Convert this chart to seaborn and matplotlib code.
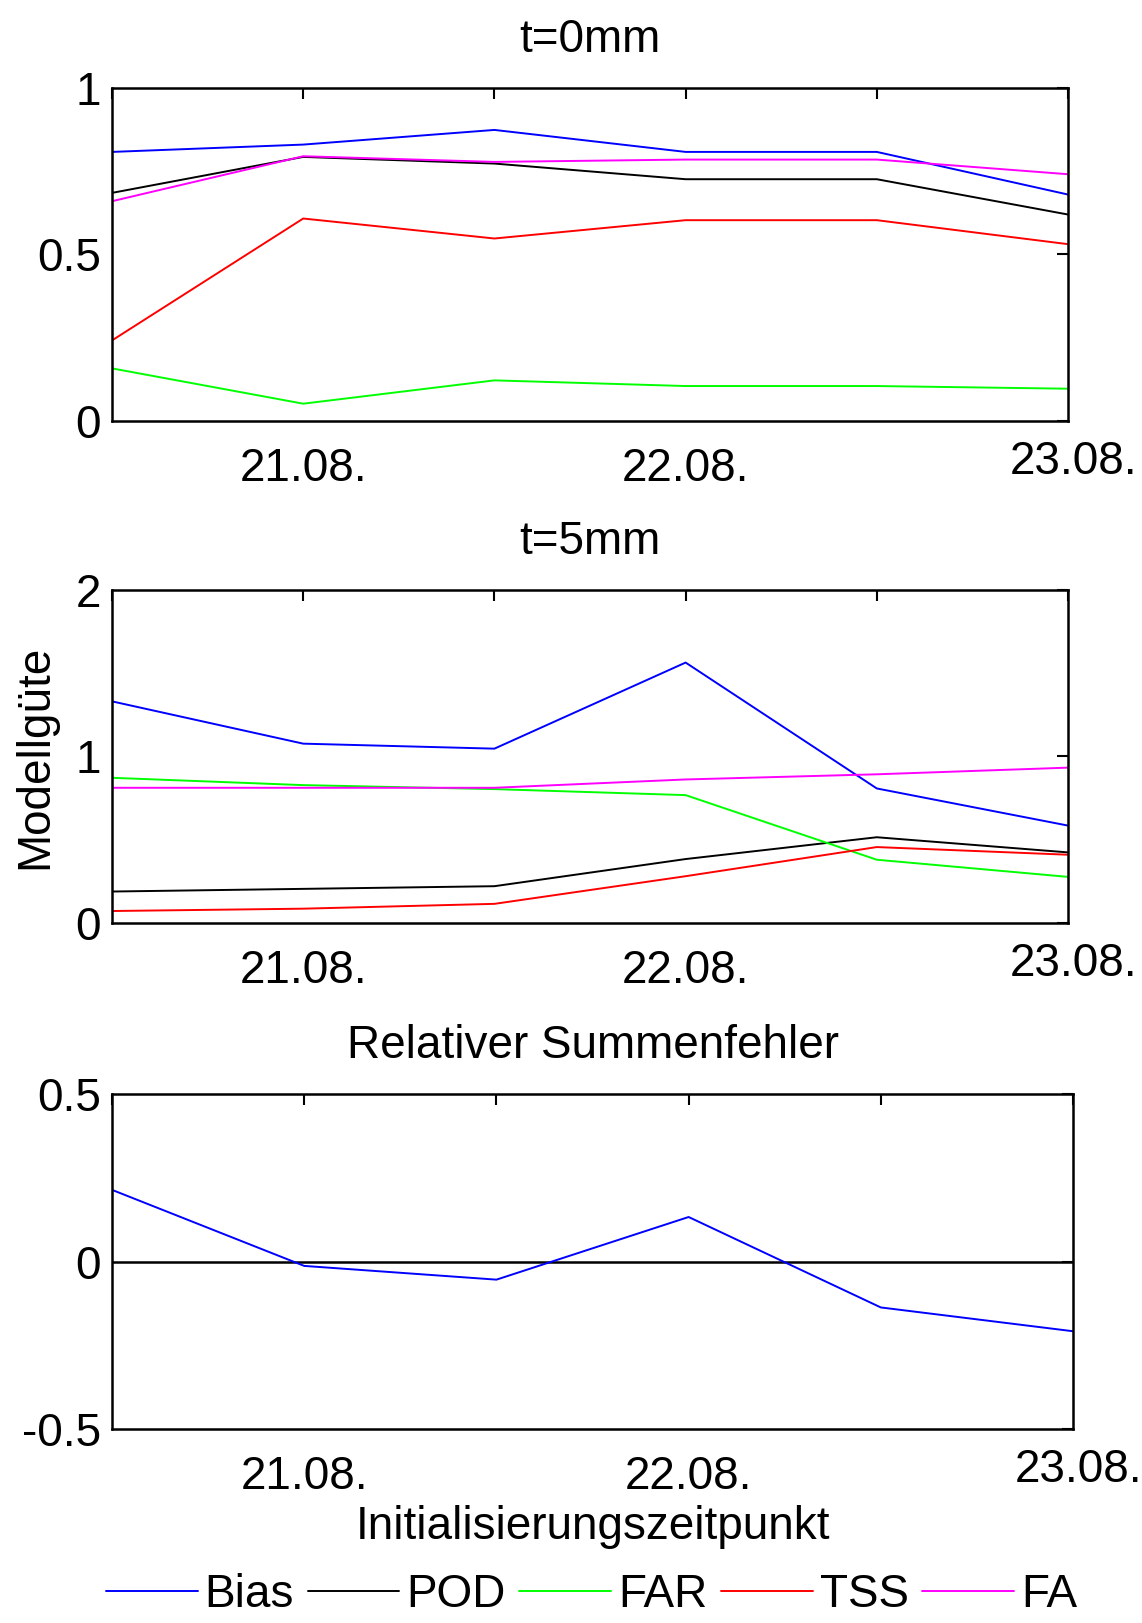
import matplotlib
matplotlib.use("Agg")
import matplotlib.pyplot as plt
import numpy as np
import pandas as pd
import seaborn as sns

# Initialisation times in 12-hour steps (20.08. 12:00 ... 23.08. 00:00)
steps = [0, 1, 2, 3, 4, 5]
tick_labels = ["", "21.08.", "", "22.08.", "", ""]
last_tick_label = "23.08."

metrics = ["Bias", "POD", "FAR", "TSS", "FA"]
colors = ["#0000ff", "#000000", "#00ff00", "#ff0000", "#ff00ff"]

# Threshold t = 0 mm
bias_t0 = [0.808, 0.830, 0.874, 0.808, 0.808, 0.680]
pod_t0 = [0.685, 0.793, 0.773, 0.726, 0.726, 0.620]
far_t0 = [0.158, 0.052, 0.122, 0.105, 0.105, 0.097]
tss_t0 = [0.242, 0.608, 0.548, 0.603, 0.603, 0.531]
fa_t0 = [0.660, 0.795, 0.778, 0.785, 0.785, 0.741]

# Threshold t = 5 mm
bias_t5 = [1.331, 1.077, 1.047, 1.564, 0.808, 0.585]
pod_t5 = [0.189, 0.205, 0.221, 0.384, 0.515, 0.424]
far_t5 = [0.872, 0.828, 0.804, 0.768, 0.380, 0.277]
tss_t5 = [0.072, 0.086, 0.115, 0.281, 0.456, 0.410]
fa_t5 = [0.812, 0.812, 0.812, 0.862, 0.893, 0.933]

# Relative sum error
rel_sum_error = [0.214, -0.013, -0.054, 0.133, -0.137, -0.208]


def long_frame(series):
    rows = []
    for name, vals in zip(metrics, series):
        for s, v in zip(steps, vals):
            rows.append({"step": s, "value": v, "metric": name})
    return pd.DataFrame(rows)


df_t0 = long_frame([bias_t0, pod_t0, far_t0, tss_t0, fa_t0])
df_t5 = long_frame([bias_t5, pod_t5, far_t5, tss_t5, fa_t5])
df_rel = pd.DataFrame({"step": steps, "value": rel_sum_error, "metric": "Bias"})

sns.set_theme(style="white")
plt.rcParams["font.family"] = ["Liberation Sans", "DejaVu Sans"]
plt.rcParams["text.color"] = "black"
plt.rcParams["axes.labelcolor"] = "black"
plt.rcParams["xtick.color"] = "black"
plt.rcParams["ytick.color"] = "black"
FS = 33
palette = dict(zip(metrics, colors))

fig = plt.figure(figsize=(11.42, 16.23), dpi=100)
ax1 = fig.add_axes([0.0981, 0.7406, 0.8371, 0.2052])
ax2 = fig.add_axes([0.0981, 0.4313, 0.8371, 0.2052])
ax3 = fig.add_axes([0.0981, 0.1195, 0.8415, 0.2064])

sns.lineplot(data=df_t0, x="step", y="value", hue="metric", hue_order=metrics,
             palette=palette, linewidth=1.4, legend=False, ax=ax1)
sns.lineplot(data=df_t5, x="step", y="value", hue="metric", hue_order=metrics,
             palette=palette, linewidth=1.4, legend=False, ax=ax2)
ax3.axhline(0, color="black", linewidth=1.8, zorder=1)
sns.lineplot(data=df_rel, x="step", y="value", color=colors[0],
             linewidth=1.4, legend=False, ax=ax3)

settings = [
    (ax1, "t=0mm", (0, 1), [0, 0.5, 1], ["0", "0.5", "1"]),
    (ax2, "t=5mm", (0, 2), [0, 1, 2], ["0", "1", "2"]),
    (ax3, "Relativer Summenfehler", (-0.5, 0.5), [-0.5, 0, 0.5], ["-0.5", "0", "0.5"]),
]
for ax, title, ylim, yt, ytl in settings:
    ax.set_xlim(steps[0], steps[-1])
    ax.set_ylim(*ylim)
    ax.set_xticks(steps)
    ax.set_xticklabels(tick_labels)
    ax.set_yticks(yt)
    ax.set_yticklabels(ytl)
    ax.set_xlabel("")
    ax.set_ylabel("")
    ax.set_title(title, fontsize=FS, pad=26, color="black")
    ax.tick_params(axis="both", direction="in", length=8, width=1.5,
                   labelsize=FS, top=True, right=True, color="black",
                   labelcolor="black")
    ax.tick_params(axis="x", pad=19)
    ax.tick_params(axis="y", pad=8)
    for sp in ax.spines.values():
        sp.set_visible(True)
        sp.set_color("black")
        sp.set_linewidth(1.8)
    ax.annotate(last_tick_label, xy=(1, 0), xycoords="axes fraction",
                xytext=(6, -19), textcoords="offset pixels",
                ha="center", va="top", fontsize=FS, color="black")

ax2.set_ylabel("Modellgüte", fontsize=FS, color="black")
ax2.yaxis.set_label_coords(-0.057, 0.5)
ax3.set_xlabel("Initialisierungszeitpunkt", fontsize=FS, labelpad=4, color="black")

handles = ax1.get_lines()[:len(metrics)]
fig.legend(handles, metrics, loc="center", bbox_to_anchor=(0.518, 0.0175),
           ncol=5, frameon=False, fontsize=FS, handlelength=2.0,
           handletextpad=0.15, columnspacing=0.3, borderpad=0, borderaxespad=0)

fig.savefig("out.png", dpi=100)
